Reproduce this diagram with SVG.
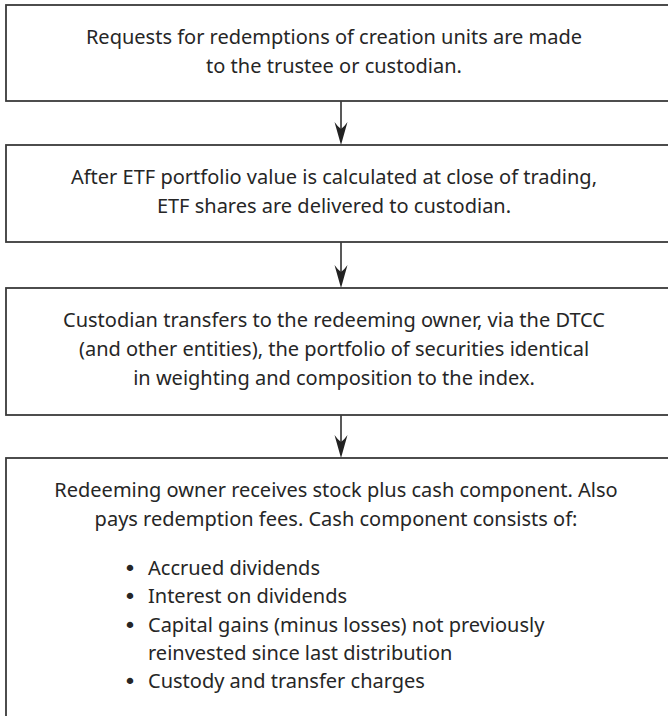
<svg xmlns="http://www.w3.org/2000/svg" width="668" height="716" viewBox="0 0 668 716">
<style>
.box{fill:#fff;stroke:#3a3a3a;stroke-width:1.8}
.t{font-family:"Noto Sans","Open Sans","DejaVu Sans",sans-serif;font-size:20px;fill:#262626}
.c{text-anchor:middle}
.b{font-family:"DejaVu Sans",sans-serif;font-size:22px;fill:#262626;text-anchor:middle}
.ln{stroke:#222;stroke-width:1.5;fill:none}
.ah{fill:#222}
</style>
<defs>
<path id="arr" class="ah" d="M0,0 L-6.5,-23 Q-3,-18 0,-16 Q3,-18 6.5,-23 Z"/>
</defs>
<g id="connectors">
<line class="ln" x1="341" y1="101" x2="341" y2="130"/>
<use href="#arr" x="341" y="145"/>
<line class="ln" x1="341" y1="242" x2="341" y2="274"/>
<use href="#arr" x="341" y="288"/>
<line class="ln" x1="341" y1="415" x2="341" y2="444"/>
<use href="#arr" x="341" y="458"/>
</g>
<g id="node1">
<rect class="box" x="6" y="5" width="680" height="96"/>
<text class="t c" x="334" y="44">Requests for redemptions of creation units are made</text>
<text class="t c" x="334" y="73">to the trustee or custodian.</text>
</g>
<g id="node2">
<rect class="box" x="6" y="145" width="680" height="97"/>
<text class="t c" x="334" y="184">After ETF portfolio value is calculated at close of trading,</text>
<text class="t c" x="334" y="213">ETF shares are delivered to custodian.</text>
</g>
<g id="node3">
<rect class="box" x="6" y="288" width="680" height="127"/>
<text class="t c" x="334" y="327">Custodian transfers to the redeeming owner, via the DTCC</text>
<text class="t c" x="334" y="356">(and other entities), the portfolio of securities identical</text>
<text class="t c" x="334" y="385">in weighting and composition to the index.</text>
</g>
<g id="node4">
<rect class="box" x="6" y="458" width="680" height="300"/>
<text class="t c" x="336" y="497">Redeeming owner receives stock plus cash component. Also</text>
<text class="t c" x="336" y="526">pays redemption fees. Cash component consists of:</text>
<text class="b" x="130" y="576">•</text><text class="t" x="148" y="575">Accrued dividends</text>
<text class="b" x="130" y="604">•</text><text class="t" x="148" y="603">Interest on dividends</text>
<text class="b" x="130" y="633">•</text><text class="t" x="148" y="632">Capital gains (minus losses) not previously</text>
<text class="t" x="148" y="660">reinvested since last distribution</text>
<text class="b" x="130" y="689">•</text><text class="t" x="148" y="688">Custody and transfer charges</text>
</g>
</svg>
